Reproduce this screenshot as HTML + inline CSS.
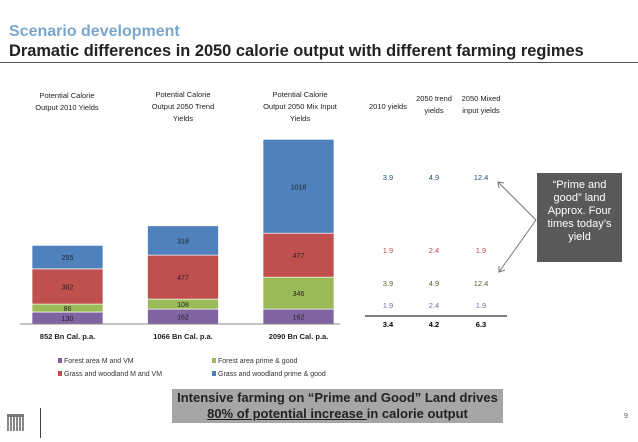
<!DOCTYPE html>
<html><head><meta charset="utf-8"><style>
body{margin:0;width:638px;height:442px;background:#fff;font-family:"Liberation Sans",sans-serif;overflow:hidden;position:relative}
.a{position:absolute}
</style></head><body>
<div class="a" style="left:9px;top:23px;font-size:16px;font-weight:bold;color:#7aa6cc">Scenario development</div>
<div class="a" style="left:9px;top:42px;font-size:16.4px;font-weight:bold;color:#222">Dramatic differences in 2050 calorie output with different farming regimes</div>
<div class="a" style="left:0;top:62px;width:638px;height:1px;background:#555"></div>
<svg class="a" style="left:0;top:0" width="638" height="442">
<g id="bars"></g>
<g font-family="Liberation Sans Narrow, Liberation Sans, sans-serif" font-size="7.5" fill="#222" text-anchor="middle" id="lbls">
<text x="67" y="98">Potential Calorie</text><text x="67" y="110">Output 2010 Yields</text>
<text x="183" y="97">Potential Calorie</text><text x="183" y="109">Output 2050 Trend</text><text x="183" y="121">Yields</text>
<text x="300" y="97">Potential Calorie</text><text x="300" y="109">Output 2050 Mix Input</text><text x="300" y="121">Yields</text>
</g>
<line x1="20" y1="324" x2="340" y2="324" stroke="#888"/>
<g font-size="7.5" text-anchor="middle" fill="#222">
<text x="388" y="109">2010 yields</text>
<text x="434" y="101">2050 trend</text><text x="434" y="113">yields</text>
<text x="481" y="101">2050 Mixed</text><text x="481" y="113">input yields</text>
</g>
<g id="tbl" font-size="7.5" text-anchor="middle"></g>
<line x1="365" y1="316" x2="507" y2="316" stroke="#000"/>
<g stroke="#777" fill="none">
<line x1="536" y1="220" x2="498" y2="182"/><line x1="536" y1="220" x2="499" y2="272"/>
<polyline points="504,183 498,182 499,188"/><polyline points="499,266 499,272 505,270"/>
</g>
<g font-size="7" fill="#333">
<rect x="58" y="358" width="4" height="5" fill="#8064a2"/><text x="64" y="363">Forest area M and VM</text>
<rect x="58" y="371" width="4" height="5" fill="#c0504d"/><text x="64" y="376">Grass and woodland M and VM</text>
<rect x="212" y="358" width="4" height="5" fill="#9bbb59"/><text x="218" y="363">Forest area prime &amp; good</text>
<rect x="212" y="371" width="4" height="5" fill="#4f81bd"/><text x="218" y="376">Grass and woodland prime &amp; good</text>
</g>
</svg>
<div class="a" style="left:537px;top:173px;width:85px;height:89px;background:#595959;color:#fff;font-size:11px;text-align:center;line-height:13px;padding:6px 9px 0;box-sizing:border-box">“Prime and good” land Approx. Four times today’s yield</div>
<div class="a" style="left:172px;top:389px;width:331px;height:34px;background:#a6a6a6;color:#222;font-size:13px;font-weight:bold;text-align:center;line-height:16px;padding-top:1px;box-sizing:border-box">Intensive farming on “Prime and Good” Land drives<br><u>80% of potential increase </u>in calorie output</div>
<div class="a" style="left:7px;top:414px;width:17px;height:14px;border-top:3px solid #777;background:repeating-linear-gradient(90deg,#888 0 2px,#fff 2px 3px)"></div>
<div class="a" style="left:40px;top:408px;width:1px;height:30px;background:#444"></div>
<div class="a" style="left:624px;top:413px;font-size:7px;color:#555">9</div>
<script>
const categories=["852 Bn Cal. p.a.","1066 Bn Cal. p.a.","2090 Bn Cal. p.a."];
const forestMVM=[130,162,162];
const forestPG=[86,108,346];
const grassMVM=[382,477,477];
const grassPG=[255,318,1018];
const yieldBlue=["3.9","4.9","12.4"];
const yieldRed=["1.9","2.4","1.9"];
const yieldGreen=["3.9","4.9","12.4"];
const yieldPurple=["1.9","2.4","1.9"];
const yieldTotal=["3.4","4.2","6.3"];
const NS="http://www.w3.org/2000/svg";
const base=324,k=0.0922;
const xs=i=>32+i*115.5, bw=71;
const y=v=>base-v*k;
const g=document.getElementById('bars');
const series=[[forestMVM,"#8064a2","forest-mvm"],[forestPG,"#9bbb59","forest-pg"],[grassMVM,"#c0504d","grass-mvm"],[grassPG,"#4f81bd","grass-pg"]];
categories.forEach((c,i)=>{
 let cum=0;
 series.forEach(([arr,col,nm])=>{
  const v=arr[i];
  const r=document.createElementNS(NS,'rect');
  r.setAttribute('x',xs(i));r.setAttribute('width',bw);
  r.setAttribute('y',y(cum+v));r.setAttribute('height',v*k);
  r.setAttribute('fill',col);r.setAttribute('stroke','#fff');r.setAttribute('stroke-width','0.7');
  
  
  g.appendChild(r);
  const t=document.createElementNS(NS,'text');
  t.setAttribute('x',xs(i)+bw/2);t.setAttribute('y',y(cum+v/2)+3);
  t.setAttribute('text-anchor','middle');t.setAttribute('font-size','7');t.setAttribute('fill','#222');
  t.textContent=v;
  
  
  g.appendChild(t);
  cum+=v;
 });
 const t=document.createElementNS(NS,'text');
 t.setAttribute('x',xs(i)+bw/2);t.setAttribute('y',339);
 t.setAttribute('text-anchor','middle');t.setAttribute('font-size','7.5');t.setAttribute('font-weight','bold');t.setAttribute('fill','#222');
 t.textContent=c;
 
 
 g.appendChild(t);
});
const tb=document.getElementById('tbl');
const cx=[388,434,481];
[[yieldBlue,180,"#1f4e79",""],[yieldRed,253,"#c0504d",""],[yieldGreen,286,"#4f6228",""],[yieldPurple,308,"#8064a2",""],[yieldTotal,327,"#000","bold"]].forEach(([arr,yy,col,fw])=>{
 arr.forEach((v,i)=>{
  const t=document.createElementNS(NS,'text');
  t.setAttribute('x',cx[i]);t.setAttribute('y',yy);t.setAttribute('fill',col);
  if(fw)t.setAttribute('font-weight',fw);
  t.textContent=v;
  
  
  tb.appendChild(t);
 });
});
</script>
</body></html>
